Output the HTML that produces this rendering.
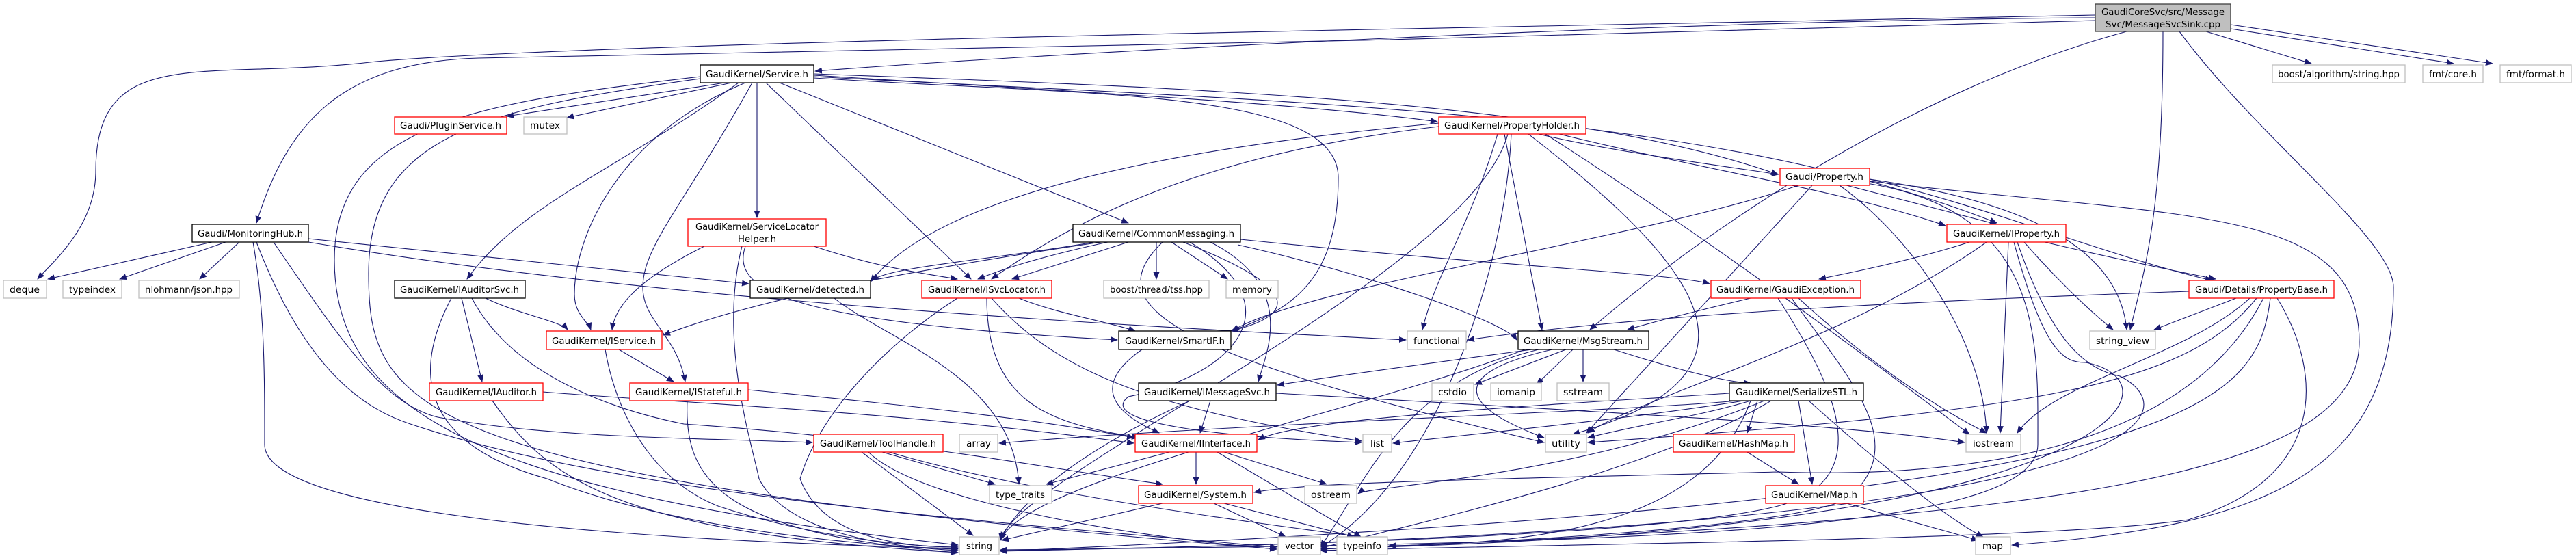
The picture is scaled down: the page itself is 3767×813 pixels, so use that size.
<!DOCTYPE html>
<html><head><meta charset="utf-8"><style>
html,body{margin:0;padding:0;background:#fff;}
svg{display:block}
text{font-family:"DejaVu Sans","Liberation Sans",sans-serif;font-size:13.5px;fill:#000}
.e path{fill:none;stroke:#191970;stroke-width:1.1}
.n rect{fill:#fff;stroke-width:1.3}
.k{stroke:#000}.r{stroke:#ff0000}.g{stroke:#bfbfbf}
</style></head><body>
<svg width="3767" height="813" viewBox="0 0 3767 813" xmlns="http://www.w3.org/2000/svg">
<defs><marker id="a" markerUnits="userSpaceOnUse" markerWidth="11" markerHeight="9" refX="10" refY="4.5" orient="auto"><path d="M0,0 L11,4.5 L0,9 z" fill="#191970"/></marker></defs>
<g class="e" marker-end="url(#a)">
<path marker-end="url(#a)" d="M3064 26 C2400 30 1500 80 1192 104"/>
<path marker-end="url(#a)" d="M3064 22 C2200 40 900 60 550 90 C300 120 140 60 140 250 C140 330 80 380 55 408"/>
<path marker-end="url(#a)" d="M3064 30 C2400 50 1200 80 700 85 C500 90 420 180 375 326"/>
<path marker-end="url(#a)" d="M3110 46 C2800 130 2500 330 2325 482"/>
<path marker-end="url(#a)" d="M3163 46 C3163 300 3140 380 3115 482"/>
<path marker-end="url(#a)" d="M3187 46 C3300 200 3500 350 3500 420 C3500 700 3300 770 2942 797"/>
<path marker-end="url(#a)" d="M3226 46 L3380 93"/>
<path marker-end="url(#a)" d="M3262 42 L3588 93"/>
<path marker-end="url(#a)" d="M3262 36 L3645 93"/>
<path marker-end="url(#a)" d="M1060 121 L741 170"/>
<path marker-end="url(#a)" d="M1070 121 L829 172"/>
<path marker-end="url(#a)" d="M1080 121 C900 250 760 300 683 408"/>
<path marker-end="url(#a)" d="M1090 121 C900 200 840 350 840 430 C840 460 860 470 864 482"/>
<path marker-end="url(#a)" d="M1107 121 L1107 318"/>
<path marker-end="url(#a)" d="M1100 121 C1000 300 940 360 940 420 C940 470 990 490 1002 558"/>
<path marker-end="url(#a)" d="M1120 121 L1420 408"/>
<path marker-end="url(#a)" d="M1140 121 L1650 326"/>
<path marker-end="url(#a)" d="M1190 110 C1500 130 1900 150 2102 178"/>
<path marker-end="url(#a)" d="M1190 114 C1600 140 1957 130 1957 260 C1957 400 1900 450 1800 484"/>
<path marker-end="url(#a)" d="M1190 108 C1800 130 2300 150 2600 255"/>
<path marker-end="url(#a)" d="M1190 112 C1900 150 2500 160 2920 326"/>
<path marker-end="url(#a)" d="M1024 112 C700 150 489 180 489 380 C489 600 700 720 1401 797"/>
<path marker-end="url(#a)" d="M1024 115 C700 160 539 200 539 400 C539 600 600 700 1867 803"/>
<path marker-end="url(#a)" d="M310 354 L70 408"/>
<path marker-end="url(#a)" d="M330 354 L175 408"/>
<path marker-end="url(#a)" d="M350 354 L292 408"/>
<path marker-end="url(#a)" d="M451 349 L1095 415"/>
<path marker-end="url(#a)" d="M451 354 C900 430 1500 470 2056 497"/>
<path marker-end="url(#a)" d="M370 354 C387 450 387 550 387 650 C387 750 900 790 1401 802"/>
<path marker-end="url(#a)" d="M375 354 C450 550 540 600 600 620 C900 720 1400 760 1867 800"/>
<path marker-end="url(#a)" d="M400 354 C500 500 560 590 640 610 C800 640 1000 640 1188 647"/>
<path marker-end="url(#a)" d="M1030 360 C950 400 900 440 895 482"/>
<path marker-end="url(#a)" d="M1190 360 C1280 390 1350 400 1400 408"/>
<path marker-end="url(#a)" d="M1090 360 C1070 420 1130 470 1634 497"/>
<path marker-end="url(#a)" d="M1085 360 C1050 500 1100 650 1110 700 C1150 780 1300 800 1401 805"/>
<path marker-end="url(#a)" d="M1600 354 C1450 380 1300 390 1275 410"/>
<path marker-end="url(#a)" d="M1620 354 C1500 380 1450 400 1430 408"/>
<path marker-end="url(#a)" d="M1650 354 L1480 408"/>
<path marker-end="url(#a)" d="M1610 354 C1300 400 1100 440 970 490"/>
<path marker-end="url(#a)" d="M1691 354 L1691 408"/>
<path marker-end="url(#a)" d="M1713 354 L1795 408"/>
<path marker-end="url(#a)" d="M1730 354 C1900 420 1900 460 1800 484"/>
<path marker-end="url(#a)" d="M1770 354 C1900 420 1850 520 1840 558"/>
<path marker-end="url(#a)" d="M1810 358 C2000 400 2200 470 2218 497"/>
<path marker-end="url(#a)" d="M1814 350 C2200 390 2450 400 2500 415"/>
<path marker-end="url(#a)" d="M1740 354 C1900 450 1800 550 1650 580 C1600 620 1800 640 1991 647"/>
<path marker-end="url(#a)" d="M1700 354 C1600 450 1720 520 2258 647"/>
<path marker-end="url(#a)" d="M2104 180 C1900 200 1400 250 1273 412"/>
<path marker-end="url(#a)" d="M2104 185 C1800 220 1600 300 1450 408"/>
<path marker-end="url(#a)" d="M2190 196 C2150 330 2100 400 2080 482"/>
<path marker-end="url(#a)" d="M2200 196 L2255 482"/>
<path marker-end="url(#a)" d="M2205 196 C2150 400 1480 700 1463 790"/>
<path marker-end="url(#a)" d="M2210 196 C2200 400 2100 700 1931 800"/>
<path marker-end="url(#a)" d="M2250 196 C2350 220 2500 240 2601 255"/>
<path marker-end="url(#a)" d="M2280 196 C2500 250 2700 280 2845 330"/>
<path marker-end="url(#a)" d="M2260 196 C2500 350 2700 500 2880 635"/>
<path marker-end="url(#a)" d="M2235 196 C2500 400 2600 550 2300 635"/>
<path marker-end="url(#a)" d="M2700 271 L2920 328"/>
<path marker-end="url(#a)" d="M2734 262 C2900 300 3100 380 3235 410"/>
<path marker-end="url(#a)" d="M2734 262 C3000 300 3100 380 3110 482"/>
<path marker-end="url(#a)" d="M2630 271 C2400 350 1900 420 1802 484"/>
<path marker-end="url(#a)" d="M2650 271 L2320 633"/>
<path marker-end="url(#a)" d="M2690 271 C2800 350 2900 500 2905 633"/>
<path marker-end="url(#a)" d="M2734 265 C3200 320 3450 300 3450 500 C3450 700 3000 760 1931 803"/>
<path marker-end="url(#a)" d="M2730 268 C2990 310 2980 500 2980 650 C2980 780 2400 795 1463 804"/>
<path marker-end="url(#a)" d="M2880 354 C2800 380 2700 400 2660 408"/>
<path marker-end="url(#a)" d="M2905 354 C2700 500 2400 580 2322 633"/>
<path marker-end="url(#a)" d="M2990 354 C3100 380 3200 400 3240 408"/>
<path marker-end="url(#a)" d="M2960 354 C3000 400 3050 450 3090 482"/>
<path marker-end="url(#a)" d="M2937 354 L2925 633"/>
<path marker-end="url(#a)" d="M2945 354 C2990 520 3020 530 3050 530 C3200 560 3100 780 1931 802"/>
<path marker-end="url(#a)" d="M2950 354 C3000 500 3050 540 3100 550 C3200 600 3200 780 1463 805"/>
<path marker-end="url(#a)" d="M3201 426 C2800 440 2400 460 2146 497"/>
<path marker-end="url(#a)" d="M3270 436 L3150 482"/>
<path marker-end="url(#a)" d="M3290 436 C3200 520 3000 560 2950 633"/>
<path marker-end="url(#a)" d="M3300 436 C3200 560 3000 600 2322 647"/>
<path marker-end="url(#a)" d="M3310 436 C3200 650 2900 700 2600 690 C2200 700 1900 705 1834 720"/>
<path marker-end="url(#a)" d="M3320 436 C3300 600 3200 730 1463 806"/>
<path marker-end="url(#a)" d="M3330 436 C3400 550 3400 700 3200 760 C3000 790 2300 795 1931 805"/>
<path marker-end="url(#a)" d="M2560 436 C2500 450 2420 470 2380 482"/>
<path marker-end="url(#a)" d="M2630 436 C2700 500 2800 580 2905 633"/>
<path marker-end="url(#a)" d="M2620 436 C2700 550 2800 650 2700 730 C2600 780 2000 800 1931 803"/>
<path marker-end="url(#a)" d="M2600 436 C2680 560 2750 700 2600 740 C2400 790 1700 800 1463 806"/>
<path marker-end="url(#a)" d="M2240 511 C2100 530 1950 550 1868 563"/>
<path marker-end="url(#a)" d="M2290 511 L2157 562"/>
<path marker-end="url(#a)" d="M2300 511 L2247 562"/>
<path marker-end="url(#a)" d="M2315 511 L2315 558"/>
<path marker-end="url(#a)" d="M2360 511 C2450 540 2530 560 2560 560"/>
<path marker-end="url(#a)" d="M2230 511 C2000 600 1500 700 1463 790"/>
<path marker-end="url(#a)" d="M2250 511 C2050 560 2000 700 1931 800"/>
<path marker-end="url(#a)" d="M2270 511 C2100 550 2150 600 2258 640"/>
<path marker-end="url(#a)" d="M1770 586 L1755 633"/>
<path marker-end="url(#a)" d="M1740 586 C1600 650 1500 720 1463 788"/>
<path marker-end="url(#a)" d="M1866 575 C2300 600 2700 620 2873 647"/>
<path marker-end="url(#a)" d="M2529 575 C2300 590 1900 610 1840 643"/>
<path marker-end="url(#a)" d="M2540 586 C2400 600 1800 620 1461 648"/>
<path marker-end="url(#a)" d="M2550 586 C2400 610 2200 630 2037 648"/>
<path marker-end="url(#a)" d="M2560 586 C2480 610 2400 620 2322 640"/>
<path marker-end="url(#a)" d="M2570 586 L2555 633"/>
<path marker-end="url(#a)" d="M2630 586 L2650 708"/>
<path marker-end="url(#a)" d="M2645 586 C2750 680 2850 760 2900 785"/>
<path marker-end="url(#a)" d="M2580 586 C2300 700 2000 710 1986 722"/>
<path marker-end="url(#a)" d="M2590 586 C2400 700 2000 780 1931 802"/>
<path marker-end="url(#a)" d="M2560 586 C2500 750 2300 795 2031 798"/>
<path marker-end="url(#a)" d="M2555 661 L2630 708"/>
<path marker-end="url(#a)" d="M2700 736 L2893 790"/>
<path marker-end="url(#a)" d="M710 436 C760 460 820 470 830 482"/>
<path marker-end="url(#a)" d="M675 436 L705 558"/>
<path marker-end="url(#a)" d="M660 436 C600 550 620 650 800 700 C1000 780 1300 800 1401 803"/>
<path marker-end="url(#a)" d="M690 436 C750 550 900 600 1000 620 C1300 640 1500 680 1700 708"/>
<path marker-end="url(#a)" d="M905 511 L985 558"/>
<path marker-end="url(#a)" d="M885 511 C900 600 950 700 1050 740 C1200 790 1350 800 1401 800"/>
<path marker-end="url(#a)" d="M794 573 C1000 590 1300 600 1658 648"/>
<path marker-end="url(#a)" d="M720 586 C800 700 900 780 1401 808"/>
<path marker-end="url(#a)" d="M1094 570 C1300 590 1500 610 1658 640"/>
<path marker-end="url(#a)" d="M1005 586 C1000 700 1050 780 1401 808"/>
<path marker-end="url(#a)" d="M1490 436 C1550 460 1620 470 1660 484"/>
<path marker-end="url(#a)" d="M1443 436 C1443 600 1550 620 1665 640"/>
<path marker-end="url(#a)" d="M1450 436 C1550 550 1700 600 1991 645"/>
<path marker-end="url(#a)" d="M1400 436 C1300 500 1200 600 1170 700 C1200 780 1300 800 1401 800"/>
<path marker-end="url(#a)" d="M1220 436 C1300 500 1480 550 1490 708"/>
<path marker-end="url(#a)" d="M1290 661 L1455 708"/>
<path marker-end="url(#a)" d="M1260 661 L1423 783"/>
<path marker-end="url(#a)" d="M1270 661 C1350 740 1700 790 1867 803"/>
<path marker-end="url(#a)" d="M1300 661 C1500 720 1800 760 1990 785"/>
<path marker-end="url(#a)" d="M1670 511 C1600 560 1620 600 1695 633"/>
<path marker-end="url(#a)" d="M1749 661 L1749 708"/>
<path marker-end="url(#a)" d="M1710 661 L1530 708"/>
<path marker-end="url(#a)" d="M1790 661 L1940 708"/>
<path marker-end="url(#a)" d="M1780 661 L1990 785"/>
<path marker-end="url(#a)" d="M1700 736 L1465 790"/>
<path marker-end="url(#a)" d="M1775 736 L1880 785"/>
<path marker-end="url(#a)" d="M1790 736 L1980 785"/>
</g>
<g class="n">
<rect x="3064" y="6" width="198" height="40" style="fill:#bfbfbf;stroke:#404040"/>
<text x="3163" y="22" text-anchor="middle" textLength="180" lengthAdjust="spacingAndGlyphs">GaudiCoreSvc/src/Message</text>
<text x="3163" y="40" text-anchor="middle" textLength="168" lengthAdjust="spacingAndGlyphs">Svc/MessageSvcSink.cpp</text>

<rect class="r" x="1006" y="320" width="202" height="40"/>
<text x="1107" y="336" text-anchor="middle" textLength="180" lengthAdjust="spacingAndGlyphs">GaudiKernel/ServiceLocator</text>
<text x="1107" y="354" text-anchor="middle">Helper.h</text>

<rect class="k" x="1024" y="95" width="166" height="26"/><text x="1107" y="113" text-anchor="middle" textLength="150" lengthAdjust="spacingAndGlyphs">GaudiKernel/Service.h</text>
<rect class="r" x="577" y="171" width="164" height="25"/><text x="659" y="188" text-anchor="middle" textLength="148" lengthAdjust="spacingAndGlyphs">Gaudi/PluginService.h</text>
<rect class="g" x="766" y="171" width="63" height="25"/><text x="797" y="188" text-anchor="middle" textLength="44" lengthAdjust="spacingAndGlyphs">mutex</text>
<rect class="r" x="2104" y="171" width="215" height="25"/><text x="2211" y="188" text-anchor="middle" textLength="198" lengthAdjust="spacingAndGlyphs">GaudiKernel/PropertyHolder.h</text>
<rect class="g" x="3323" y="95" width="194" height="26"/><text x="3420" y="113" text-anchor="middle" textLength="178" lengthAdjust="spacingAndGlyphs">boost/algorithm/string.hpp</text>
<rect class="g" x="3543" y="95" width="88" height="26"/><text x="3587" y="113" text-anchor="middle" textLength="70" lengthAdjust="spacingAndGlyphs">fmt/core.h</text>
<rect class="g" x="3656" y="95" width="104" height="26"/><text x="3708" y="113" text-anchor="middle" textLength="86" lengthAdjust="spacingAndGlyphs">fmt/format.h</text>
<rect class="r" x="2603" y="246" width="131" height="25"/><text x="2668" y="263" text-anchor="middle" textLength="114" lengthAdjust="spacingAndGlyphs">Gaudi/Property.h</text>
<rect class="k" x="281" y="328" width="170" height="26"/><text x="366" y="346" text-anchor="middle" textLength="154" lengthAdjust="spacingAndGlyphs">Gaudi/MonitoringHub.h</text>
<rect class="k" x="1569" y="328" width="245" height="26"/><text x="1691" y="346" text-anchor="middle" textLength="228" lengthAdjust="spacingAndGlyphs">GaudiKernel/CommonMessaging.h</text>
<rect class="r" x="2847" y="328" width="174" height="26"/><text x="2934" y="346" text-anchor="middle" textLength="156" lengthAdjust="spacingAndGlyphs">GaudiKernel/IProperty.h</text>
<rect class="g" x="5" y="410" width="63" height="26"/><text x="36" y="428" text-anchor="middle" textLength="44" lengthAdjust="spacingAndGlyphs">deque</text>
<rect class="g" x="92" y="410" width="86" height="26"/><text x="135" y="428" text-anchor="middle" textLength="68" lengthAdjust="spacingAndGlyphs">typeindex</text>
<rect class="g" x="203" y="410" width="147" height="26"/><text x="276" y="428" text-anchor="middle" textLength="128" lengthAdjust="spacingAndGlyphs">nlohmann/json.hpp</text>
<rect class="k" x="577" y="410" width="191" height="26"/><text x="672" y="428" text-anchor="middle" textLength="174" lengthAdjust="spacingAndGlyphs">GaudiKernel/IAuditorSvc.h</text>
<rect class="k" x="1097" y="410" width="176" height="26"/><text x="1185" y="428" text-anchor="middle" textLength="158" lengthAdjust="spacingAndGlyphs">GaudiKernel/detected.h</text>
<rect class="r" x="1348" y="410" width="190" height="26"/><text x="1443" y="428" text-anchor="middle" textLength="172" lengthAdjust="spacingAndGlyphs">GaudiKernel/ISvcLocator.h</text>
<rect class="g" x="1614" y="410" width="154" height="26"/><text x="1691" y="428" text-anchor="middle" textLength="136" lengthAdjust="spacingAndGlyphs">boost/thread/tss.hpp</text>
<rect class="g" x="1793" y="410" width="76" height="26"/><text x="1831" y="428" text-anchor="middle" textLength="58" lengthAdjust="spacingAndGlyphs">memory</text>
<rect class="r" x="2502" y="410" width="219" height="26"/><text x="2611" y="428" text-anchor="middle" textLength="202" lengthAdjust="spacingAndGlyphs">GaudiKernel/GaudiException.h</text>
<rect class="r" x="3201" y="410" width="212" height="26"/><text x="3307" y="428" text-anchor="middle" textLength="194" lengthAdjust="spacingAndGlyphs">Gaudi/Details/PropertyBase.h</text>
<rect class="r" x="799" y="484" width="169" height="27"/><text x="883" y="503" text-anchor="middle" textLength="152" lengthAdjust="spacingAndGlyphs">GaudiKernel/IService.h</text>
<rect class="k" x="1636" y="484" width="164" height="27"/><text x="1718" y="503" text-anchor="middle" textLength="146" lengthAdjust="spacingAndGlyphs">GaudiKernel/SmartIF.h</text>
<rect class="g" x="2058" y="484" width="86" height="27"/><text x="2101" y="503" text-anchor="middle" textLength="68" lengthAdjust="spacingAndGlyphs">functional</text>
<rect class="k" x="2220" y="484" width="191" height="27"/><text x="2315" y="503" text-anchor="middle" textLength="174" lengthAdjust="spacingAndGlyphs">GaudiKernel/MsgStream.h</text>
<rect class="g" x="3056" y="484" width="96" height="27"/><text x="3104" y="503" text-anchor="middle" textLength="78" lengthAdjust="spacingAndGlyphs">string_view</text>
<rect class="r" x="628" y="560" width="166" height="26"/><text x="711" y="578" text-anchor="middle" textLength="148" lengthAdjust="spacingAndGlyphs">GaudiKernel/IAuditor.h</text>
<rect class="r" x="921" y="560" width="173" height="26"/><text x="1007" y="578" text-anchor="middle" textLength="156" lengthAdjust="spacingAndGlyphs">GaudiKernel/IStateful.h</text>
<rect class="k" x="1665" y="560" width="201" height="26"/><text x="1765" y="578" text-anchor="middle" textLength="184" lengthAdjust="spacingAndGlyphs">GaudiKernel/IMessageSvc.h</text>
<rect class="g" x="2094" y="560" width="61" height="26"/><text x="2124" y="578" text-anchor="middle" textLength="42" lengthAdjust="spacingAndGlyphs">cstdio</text>
<rect class="g" x="2180" y="560" width="74" height="26"/><text x="2217" y="578" text-anchor="middle" textLength="56" lengthAdjust="spacingAndGlyphs">iomanip</text>
<rect class="g" x="2277" y="560" width="76" height="26"/><text x="2315" y="578" text-anchor="middle" textLength="58" lengthAdjust="spacingAndGlyphs">sstream</text>
<rect class="k" x="2529" y="560" width="196" height="26"/><text x="2627" y="578" text-anchor="middle" textLength="178" lengthAdjust="spacingAndGlyphs">GaudiKernel/SerializeSTL.h</text>
<rect class="r" x="1190" y="635" width="189" height="26"/><text x="1284" y="653" text-anchor="middle" textLength="170" lengthAdjust="spacingAndGlyphs">GaudiKernel/ToolHandle.h</text>
<rect class="g" x="1403" y="635" width="56" height="26"/><text x="1431" y="653" text-anchor="middle" textLength="36" lengthAdjust="spacingAndGlyphs">array</text>
<rect class="r" x="1660" y="635" width="178" height="26"/><text x="1749" y="653" text-anchor="middle" textLength="160" lengthAdjust="spacingAndGlyphs">GaudiKernel/IInterface.h</text>
<rect class="g" x="1993" y="635" width="42" height="26"/><text x="2014" y="653" text-anchor="middle" textLength="20" lengthAdjust="spacingAndGlyphs">list</text>
<rect class="g" x="2260" y="635" width="60" height="26"/><text x="2290" y="653" text-anchor="middle" textLength="42" lengthAdjust="spacingAndGlyphs">utility</text>
<rect class="r" x="2447" y="635" width="177" height="26"/><text x="2535" y="653" text-anchor="middle" textLength="160" lengthAdjust="spacingAndGlyphs">GaudiKernel/HashMap.h</text>
<rect class="g" x="2875" y="635" width="80" height="26"/><text x="2915" y="653" text-anchor="middle" textLength="60" lengthAdjust="spacingAndGlyphs">iostream</text>
<rect class="g" x="1447" y="710" width="91" height="26"/><text x="1492" y="728" text-anchor="middle" textLength="72" lengthAdjust="spacingAndGlyphs">type_traits</text>
<rect class="r" x="1665" y="710" width="167" height="26"/><text x="1748" y="728" text-anchor="middle" textLength="150" lengthAdjust="spacingAndGlyphs">GaudiKernel/System.h</text>
<rect class="g" x="1908" y="710" width="76" height="26"/><text x="1946" y="728" text-anchor="middle" textLength="58" lengthAdjust="spacingAndGlyphs">ostream</text>
<rect class="r" x="2582" y="710" width="143" height="26"/><text x="2653" y="728" text-anchor="middle" textLength="126" lengthAdjust="spacingAndGlyphs">GaudiKernel/Map.h</text>
<rect class="g" x="1403" y="785" width="58" height="26"/><text x="1432" y="803" text-anchor="middle" textLength="38" lengthAdjust="spacingAndGlyphs">string</text>
<rect class="g" x="1869" y="785" width="62" height="26"/><text x="1900" y="803" text-anchor="middle" textLength="42" lengthAdjust="spacingAndGlyphs">vector</text>
<rect class="g" x="1955" y="785" width="74" height="26"/><text x="1992" y="803" text-anchor="middle" textLength="56" lengthAdjust="spacingAndGlyphs">typeinfo</text>
<rect class="g" x="2889" y="785" width="51" height="26"/><text x="2914" y="803" text-anchor="middle" textLength="30" lengthAdjust="spacingAndGlyphs">map</text>
</g>
</svg>
</body></html>
